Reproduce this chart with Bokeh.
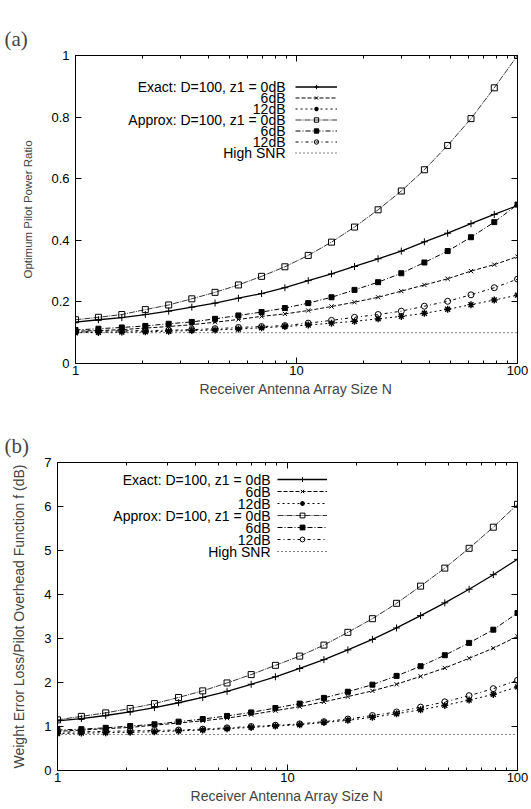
from bokeh.plotting import figure
from bokeh.models import Range1d, LogAxis, LinearAxis, FixedTicker, Legend, LegendItem, Label
from bokeh.layouts import column
from bokeh.embed import file_html
from bokeh.resources import INLINE

# ---------------- data ----------------
N = [1.0, 1.27, 1.62, 2.07, 2.64, 3.36, 4.28, 5.46, 6.95, 8.86,
     11.3, 14.4, 18.3, 23.4, 29.8, 37.9, 48.3, 61.6, 78.5, 100.0]
snr_N = [1.0, 100.0]

# (a) Optimum pilot power ratio
a_exact_0 = [0.134, 0.142, 0.149, 0.159, 0.170, 0.183, 0.196, 0.212, 0.227, 0.246,
             0.269, 0.291, 0.315, 0.340, 0.365, 0.395, 0.423, 0.454, 0.484, 0.513]
a_exact_6 = [0.105, 0.107, 0.110, 0.115, 0.120, 0.126, 0.134, 0.143, 0.153, 0.161,
             0.172, 0.185, 0.199, 0.215, 0.235, 0.255, 0.275, 0.300, 0.321, 0.347]
a_exact_12 = [0.100, 0.101, 0.102, 0.103, 0.105, 0.107, 0.109, 0.112, 0.116, 0.120,
              0.125, 0.131, 0.137, 0.145, 0.153, 0.163, 0.176, 0.191, 0.206, 0.222]
a_approx_0 = [0.142, 0.150, 0.159, 0.175, 0.190, 0.210, 0.231, 0.255, 0.283, 0.314,
              0.351, 0.394, 0.443, 0.499, 0.560, 0.629, 0.708, 0.795, 0.895, 1.000]
a_approx_6 = [0.109, 0.113, 0.117, 0.122, 0.129, 0.135, 0.145, 0.156, 0.167, 0.180,
              0.196, 0.215, 0.239, 0.264, 0.293, 0.328, 0.365, 0.410, 0.459, 0.516]
a_approx_12 = [0.104, 0.105, 0.106, 0.107, 0.108, 0.110, 0.113, 0.117, 0.120, 0.123,
               0.131, 0.140, 0.150, 0.159, 0.170, 0.186, 0.202, 0.223, 0.246, 0.274]
a_high_snr = [0.10, 0.10]

# (b) Weight error loss / pilot overhead function f (dB)
b_exact_0 = [1.13, 1.18, 1.25, 1.33, 1.43, 1.54, 1.66, 1.80, 1.96, 2.13,
             2.32, 2.52, 2.74, 2.98, 3.24, 3.52, 3.81, 4.12, 4.45, 4.80]
b_exact_6 = [0.89, 0.92, 0.95, 0.98, 1.03, 1.08, 1.13, 1.19, 1.27, 1.36,
             1.45, 1.56, 1.68, 1.81, 1.96, 2.14, 2.33, 2.55, 2.78, 3.05]
b_exact_12 = [0.84, 0.85, 0.86, 0.87, 0.88, 0.90, 0.92, 0.95, 0.98, 1.01,
              1.04, 1.09, 1.14, 1.21, 1.29, 1.38, 1.48, 1.60, 1.73, 1.90]
b_approx_0 = [1.15, 1.23, 1.31, 1.41, 1.52, 1.66, 1.81, 1.99, 2.18, 2.39,
              2.60, 2.85, 3.14, 3.45, 3.80, 4.19, 4.60, 5.05, 5.53, 6.05]
b_approx_6 = [0.92, 0.94, 0.97, 1.01, 1.05, 1.11, 1.17, 1.24, 1.32, 1.42,
              1.52, 1.65, 1.79, 1.95, 2.15, 2.37, 2.62, 2.90, 3.20, 3.58]
b_approx_12 = [0.87, 0.88, 0.89, 0.90, 0.91, 0.92, 0.94, 0.97, 1.00, 1.03,
               1.06, 1.11, 1.17, 1.25, 1.33, 1.44, 1.56, 1.70, 1.86, 2.05]
b_high_snr = [0.82, 0.82]

labels = ["Exact: D=100, z1 = 0dB", "6dB", "12dB",
          "Approx: D=100, z1 = 0dB", "6dB", "12dB", "High SNR"]

x_ticks = [1, 10, 100]
x_minor = [2, 3, 4, 5, 6, 7, 8, 9, 20, 30, 40, 50, 60, 70, 80, 90]
a_yticks = [0, 0.2, 0.4, 0.6, 0.8, 1]
b_yticks = [0, 1, 2, 3, 4, 5, 6, 7]

# ---------------- styles ----------------
SANS = "Liberation Sans"
# (dash, width, marker, size, fill, marker line width)
STYLES = [
    ("solid", 1.3, "cross", 7, None, 1.0),
    ("4 2", 1.0, "x", 6, None, 1.0),
    ("2 3", 1.0, "asterisk", 7, None, 1.4),
    ("6 1 1 1", 0.8, "square", 6, None, 1.0),
    ("5 2 1 2", 1.0, "square", 5, "black", 1.0),
    ("3 3 1 3", 1.0, "circle", 6, None, 1.0),
]


def fx(px, fw):
    # pixel offset from frame left -> data x on the 1..100 log axis
    return 10 ** (2.0 * px / fw)


def fy(py, fh, ymax):
    # pixel offset from frame top -> data y
    return ymax * (1.0 - py / fh)


def style_axis(ax, label_size="13px"):
    ax.axis_line_color = "black"
    ax.major_tick_in = 6
    ax.major_tick_out = 0
    ax.minor_tick_in = 3
    ax.minor_tick_out = 0
    ax.major_tick_line_color = "black"
    ax.minor_tick_line_color = "black"
    ax.major_label_text_font = SANS
    ax.major_label_text_font_size = label_size
    ax.major_label_text_color = "black"


def panel(tag, ylabel, ylabel_size, yticks, ymax, yoverrides, series, snr,
          fw, fh, left, top, bottom,
          text_right, row0, pitch, samp_x, samp_w):
    p = figure(frame_width=fw, frame_height=fh, x_axis_type="log",
               x_range=Range1d(1, 100), y_range=Range1d(0, ymax),
               output_backend="svg", toolbar_location=None,
               min_border_left=left, min_border_right=12,
               min_border_top=top, min_border_bottom=bottom,
               frame_align=False,
               background_fill_color="white", border_fill_color="white")
    p.grid.visible = False
    p.outline_line_color = "black"
    p.title.text = tag
    p.title.text_font = "Liberation Serif"
    p.title.text_font_size = "21px"
    p.title.text_font_style = "normal"
    p.title.align = "left"
    p.title.offset = -left + 4

    xt = FixedTicker(ticks=x_ticks, minor_ticks=x_minor)
    yt = FixedTicker(ticks=yticks)
    xa = p.xaxis[0]
    xa.ticker = xt
    style_axis(xa)
    xa.major_label_overrides = {1: "1", 10: "10", 100: "100"}
    xa.major_label_standoff = 2
    xa.axis_label = "Receiver Antenna Array Size N"
    xa.axis_label_text_font = SANS
    xa.axis_label_text_font_size = "14px"
    xa.axis_label_text_font_style = "normal"
    xa.axis_label_standoff = 3

    ya = p.yaxis[0]
    ya.ticker = yt
    style_axis(ya)
    ya.minor_tick_line_color = None
    ya.major_label_overrides = yoverrides
    ya.major_label_standoff = 6
    ya.axis_label = ylabel
    ya.axis_label_text_font = SANS
    ya.axis_label_text_font_size = ylabel_size
    ya.axis_label_text_font_style = "normal"
    ya.axis_label_standoff = 14

    top_ax = LogAxis(ticker=xt)
    style_axis(top_ax, "1px")
    top_ax.major_label_text_alpha = 0
    top_ax.major_label_standoff = 0
    p.add_layout(top_ax, "above")
    right_ax = LinearAxis(ticker=yt)
    style_axis(right_ax, "1px")
    right_ax.major_label_text_alpha = 0
    right_ax.minor_tick_line_color = None
    right_ax.major_label_standoff = 0
    p.add_layout(right_ax, "right")

    items = []
    for vals, (dash, lw, mk, sz, fill, mlw) in zip(series, STYLES):
        lr = p.line(N, vals, line_color="black", line_width=lw, line_dash=dash)
        sr = p.scatter(N, vals, marker=mk, size=sz, line_color="black",
                       line_width=mlw, fill_color=fill if fill else "white",
                       fill_alpha=1 if fill else 0)
        items.append(LegendItem(label=" ", renderers=[lr, sr]))
    hr = p.line(snr_N, snr, line_color="black", line_width=1, line_dash="1 3")
    items.append(LegendItem(label=" ", renderers=[hr]))

    n = len(items)
    leg_top = row0 - pitch / 2.0
    leg = Legend(items=items, location=(samp_x, int(fh - leg_top - n * pitch)),
                 glyph_width=samp_w, glyph_height=pitch, label_width=1,
                 label_height=pitch, label_standoff=0, label_text_font_size="1px",
                 label_text_alpha=0,
                 padding=0, margin=0, spacing=0, border_line_color=None,
                 background_fill_alpha=0)
    p.add_layout(leg)

    for i, txt in enumerate(labels):
        p.add_layout(Label(x=fx(text_right, fw), y=fy(row0 + i * pitch, fh, ymax),
                           text=txt, text_font=SANS, text_font_size="14px",
                           text_align="right", text_baseline="middle",
                           text_color="black"))
    return p


pa = panel("(a)", "Optimum Pilot Power Ratio", "11.5px", a_yticks, 1.0,
           {0: "0", 1: "1"},
           [a_exact_0, a_exact_6, a_exact_12, a_approx_0, a_approx_6, a_approx_12],
           a_high_snr, fw=442, fh=308, left=75, top=55, bottom=39,
           text_right=210, row0=31, pitch=11, samp_x=220, samp_w=42)

pb = panel("(b)", "Weight Error Loss/Pilot Overhead Function f (dB)", "14px",
           b_yticks, 7.0, {},
           [b_exact_0, b_exact_6, b_exact_12, b_approx_0, b_approx_6, b_approx_12],
           b_high_snr, fw=460, fh=308, left=57, top=60, bottom=38,
           text_right=213, row0=17, pitch=12, samp_x=220, samp_w=50)

layout = column(pa, pb, spacing=0)
open("out.html", "w").write(file_html(layout, INLINE))
